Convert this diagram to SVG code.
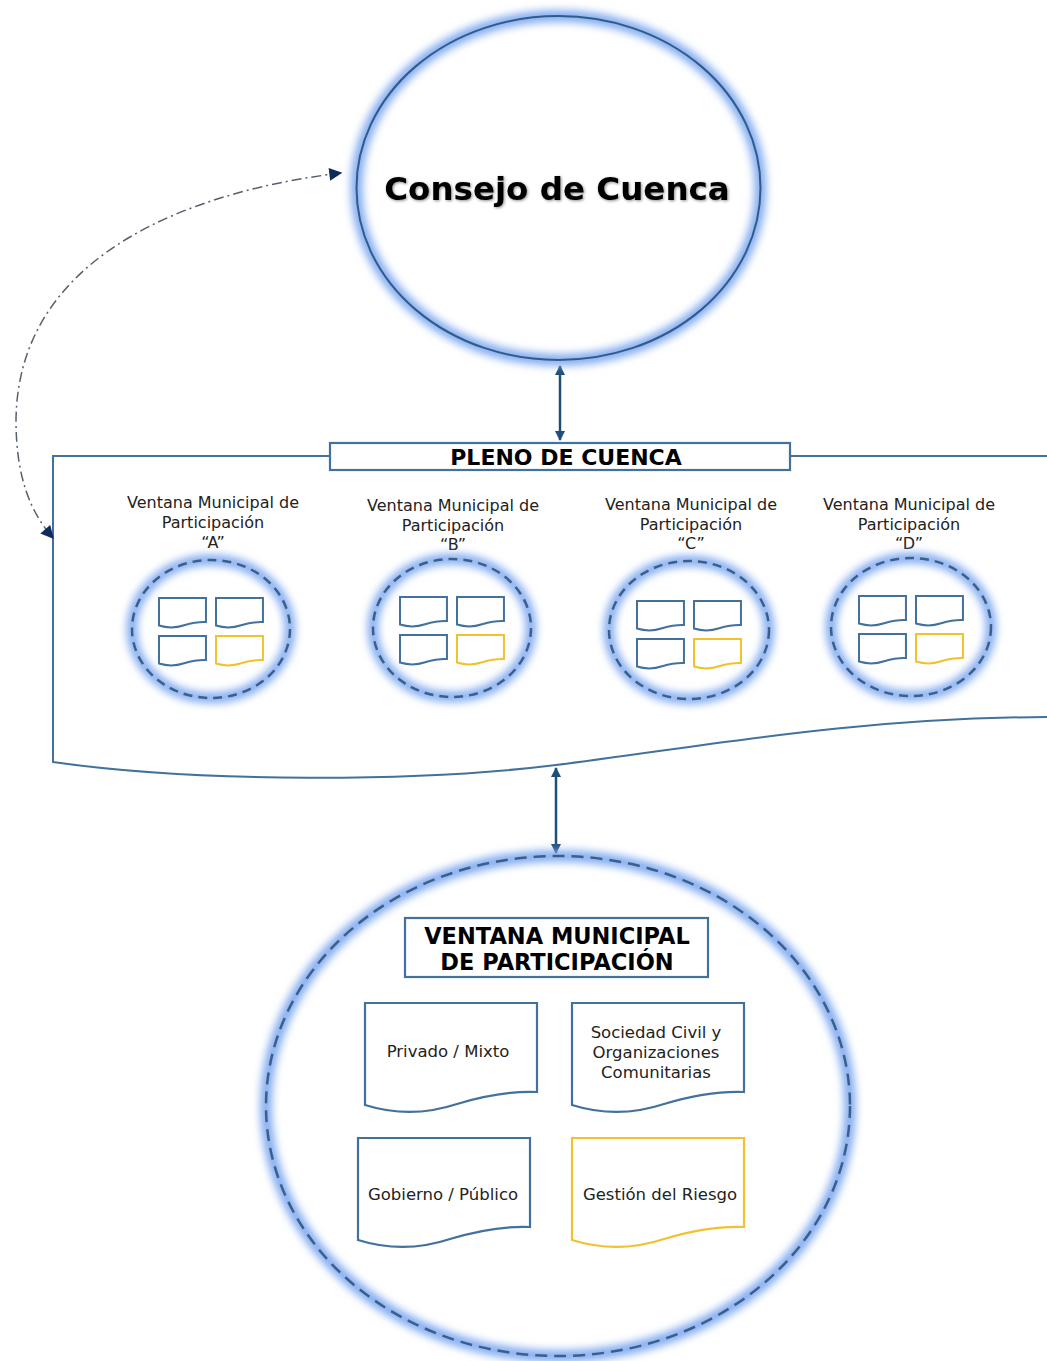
<svg xmlns="http://www.w3.org/2000/svg" xmlns:xlink="http://www.w3.org/1999/xlink" width="1047" height="1361" viewBox="0 0 1047 1361">
<defs>
<style>
text{font-family:"DejaVu Sans","Verdana","Liberation Sans",sans-serif;fill:#1a1a1a;text-anchor:middle}
.bold{font-weight:bold;fill:#000}
.lbl{font-size:16px;fill:#222}
.doctxt{font-size:16.5px;fill:#222}
.glow{fill:none;stroke:#7aa6f0;filter:url(#blur)}
.frame{fill:none;stroke:#41719c;stroke-width:2}
.doc{fill:#fff;stroke:#41719c;stroke-width:2.2}
.docy{fill:#fff;stroke:#f2c12e;stroke-width:2.2}
.mini{fill:#fff;stroke:#41719c;stroke-width:2;vector-effect:non-scaling-stroke}
.miniy{fill:#fff;stroke:#f2c12e;stroke-width:2;vector-effect:non-scaling-stroke}
.dashc{fill:none;stroke:#3a5f8a;stroke-width:2.5}
.conn{fill:none;stroke:#1f4e79;stroke-width:2.5}
</style>
<filter id="blur" x="-20%" y="-20%" width="140%" height="140%"><feGaussianBlur stdDeviation="4"/></filter>
<filter id="tshadow" x="-5%" y="-30%" width="110%" height="160%"><feGaussianBlur in="SourceAlpha" stdDeviation="1.5" result="b"/><feOffset dx="1" dy="1" result="o"/><feComponentTransfer in="o" result="s"><feFuncA type="linear" slope="0.45"/></feComponentTransfer><feMerge><feMergeNode in="s"/><feMergeNode in="SourceGraphic"/></feMerge></filter>
<marker id="arr" viewBox="0 0 10 10" refX="9" refY="5" markerWidth="4" markerHeight="4" orient="auto-start-reverse"><path d="M0,0 L10,5 L0,10 z" fill="#1f4e79"/></marker>
<marker id="arr2" viewBox="0 0 10 10" refX="9" refY="5" markerUnits="userSpaceOnUse" markerWidth="14" markerHeight="13" orient="auto-start-reverse"><path d="M0,0 L10,5 L0,10 z" fill="#0d2b5c"/></marker>
<path id="bigdoc" d="M0,102 V0 H172 V89 C148,88 122,92 92,101 C62,111 32,112 0,102 Z"/>
<g id="minis">
<path class="mini" transform="translate(-52,-31) scale(0.273,0.27)" d="M0,102 V0 H172 V89 C148,88 122,92 92,101 C62,111 32,112 0,102 Z"/>
<path class="mini" transform="translate(5,-31) scale(0.273,0.27)" d="M0,102 V0 H172 V89 C148,88 122,92 92,101 C62,111 32,112 0,102 Z"/>
<path class="mini" transform="translate(-52,7) scale(0.273,0.27)" d="M0,102 V0 H172 V89 C148,88 122,92 92,101 C62,111 32,112 0,102 Z"/>
<path class="miniy" transform="translate(5,7) scale(0.273,0.27)" d="M0,102 V0 H172 V89 C148,88 122,92 92,101 C62,111 32,112 0,102 Z"/>
</g>
</defs>
<rect width="1047" height="1361" fill="#fff"/>

<g id="pleno-container">
<path class="frame" d="M329,456 H53 V762 C200,783 420,782 556,765 C700,747 850,718 1047,717"/>
<path class="frame" d="M791,456 H1047"/>
</g>

<g id="connectors">
<line class="conn" x1="560" y1="366" x2="560" y2="440" marker-start="url(#arr)" marker-end="url(#arr)"/>
<line class="conn" x1="556" y1="768" x2="556" y2="853" marker-start="url(#arr)" marker-end="url(#arr)"/>
<path d="M341,173 C200,190 18,250 16,420 C16,480 32,514 53,538" fill="none" stroke="#55606e" stroke-width="1.5" stroke-dasharray="10 4 2 4" marker-start="url(#arr2)" marker-end="url(#arr2)"/>
</g>

<g id="consejo">
<ellipse class="glow" cx="558.5" cy="188" rx="202" ry="172" stroke-width="11"/>
<ellipse cx="558.5" cy="188" rx="202" ry="172" fill="none" stroke="#2f5c8a" stroke-width="2"/>
<text class="bold" x="557" y="200" font-size="32.5" filter="url(#tshadow)">Consejo de Cuenca</text>
</g>

<g id="pleno">
<rect x="330" y="443" width="460" height="27" fill="#fff" stroke="#41719c" stroke-width="2.2"/>
<text class="bold" x="566" y="465" font-size="22">PLENO DE CUENCA</text>
</g>

<g id="ventana-a">
<text class="lbl" x="213" y="508">Ventana Municipal de</text>
<text class="lbl" x="213" y="528">Participación</text>
<text class="lbl" x="213" y="548">“A”</text>
<ellipse class="glow" cx="211" cy="629" rx="79" ry="69" stroke-width="10"/>
<ellipse class="dashc" cx="211" cy="629" rx="79" ry="69" stroke-dasharray="9 6"/>
<use href="#minis" x="211" y="629"/>
</g>

<g id="ventana-b">
<text class="lbl" x="453" y="511">Ventana Municipal de</text>
<text class="lbl" x="453" y="531">Participación</text>
<text class="lbl" x="453" y="550">“B”</text>
<ellipse class="glow" cx="452" cy="628" rx="79" ry="69" stroke-width="10"/>
<ellipse class="dashc" cx="452" cy="628" rx="79" ry="69" stroke-dasharray="9 6"/>
<use href="#minis" x="452" y="628"/>
</g>

<g id="ventana-c">
<text class="lbl" x="691" y="510">Ventana Municipal de</text>
<text class="lbl" x="691" y="530">Participación</text>
<text class="lbl" x="691" y="549">“C”</text>
<ellipse class="glow" cx="689" cy="630" rx="80" ry="69" stroke-width="10"/>
<ellipse class="dashc" cx="689" cy="630" rx="80" ry="69" stroke-dasharray="9 6"/>
<use href="#minis" x="689" y="632"/>
</g>

<g id="ventana-d">
<text class="lbl" x="909" y="510">Ventana Municipal de</text>
<text class="lbl" x="909" y="530">Participación</text>
<text class="lbl" x="909" y="549">“D”</text>
<ellipse class="glow" cx="911" cy="627" rx="80" ry="69" stroke-width="10"/>
<ellipse class="dashc" cx="911" cy="627" rx="80" ry="69" stroke-dasharray="9 6"/>
<use href="#minis" x="911" y="627"/>
</g>

<g id="ventana-detalle">
<ellipse class="glow" cx="558" cy="1106" rx="292" ry="250" stroke-width="11"/>
<ellipse class="dashc" cx="558" cy="1106" rx="292" ry="250" stroke-dasharray="12 7"/>
</g>

<g id="titulo-ventana">
<rect x="405" y="918" width="303" height="59" fill="#fff" stroke="#41719c" stroke-width="2.2"/>
<text class="bold" x="557" y="944" font-size="22.5">VENTANA MUNICIPAL</text>
<text class="bold" x="557" y="970" font-size="22.5">DE PARTICIPACIÓN</text>
</g>

<g id="privado">
<use href="#bigdoc" class="doc" x="365" y="1003"/>
<text class="doctxt" x="448" y="1057">Privado / Mixto</text>
</g>
<g id="sociedad">
<use href="#bigdoc" class="doc" x="572" y="1003"/>
<text class="doctxt" x="656" y="1038">Sociedad Civil y</text>
<text class="doctxt" x="656" y="1058">Organizaciones</text>
<text class="doctxt" x="656" y="1078">Comunitarias</text>
</g>
<g id="gobierno">
<use href="#bigdoc" class="doc" x="358" y="1138"/>
<text class="doctxt" x="443" y="1200">Gobierno / Público</text>
</g>
<g id="gestion">
<use href="#bigdoc" class="docy" x="572" y="1138"/>
<text class="doctxt" x="660" y="1200">Gestión del Riesgo</text>
</g>
</svg>
